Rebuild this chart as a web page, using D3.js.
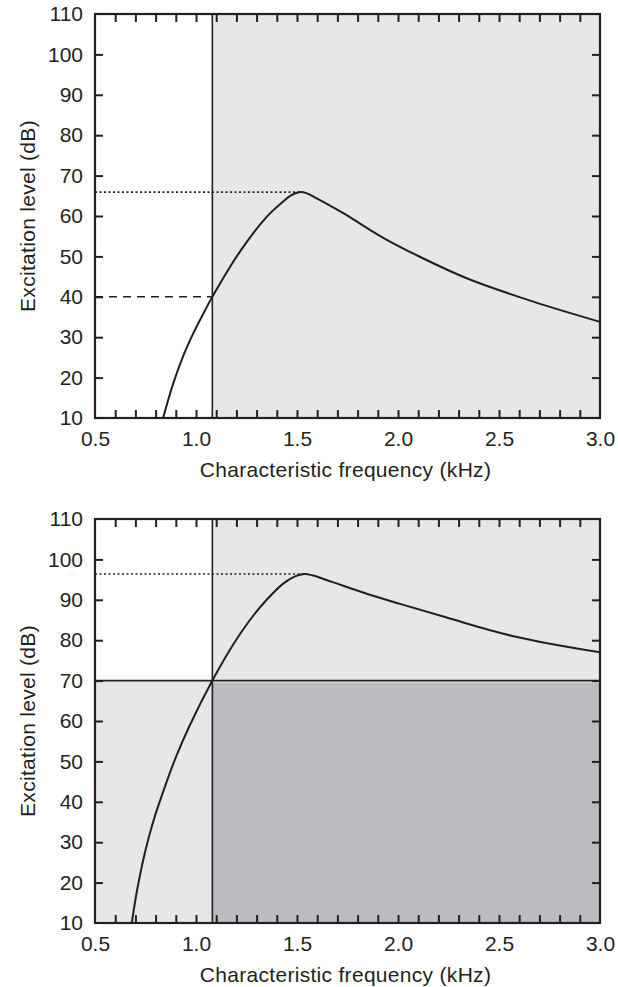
<!DOCTYPE html>
<html>
<head>
<meta charset="utf-8">
<script src="https://cdn.jsdelivr.net/npm/d3@7"></script>
<style>
  body { margin: 0; background: #fff; }
  svg { display: block; font-family: "Liberation Sans", Arial, sans-serif; }
</style>
</head>
<body>
<div id="vis"></div>
<script>
// Eixos
const freqLabels = [0.5, 1.0, 1.5, 2.0, 2.5, 3.0];
const freqMinor = d3.range(6, 30).map(d => d / 10);
const levelLabels = [10, 20, 30, 40, 50, 60, 70, 80, 90, 100, 110];
const levelMinor = [20, 30, 40, 50, 60, 70, 80, 90, 100];

// Painel de cima: padrão de excitação
const freqTop  = [0.837, 0.887, 0.937, 0.987, 1.037, 1.081, 1.215, 1.35, 1.432, 1.47, 1.51, 1.55, 1.6, 1.729, 1.927, 2.092, 2.34, 2.67, 3.0];
const levelTop = [10, 18.5, 25.4, 31, 35.9, 40, 51, 59.8, 63.6, 65.1, 65.9, 65.6, 64.3, 60.7, 54.6, 50.3, 44.6, 38.8, 33.8];

// Painel de baixo
const freqBottom  = [0.682, 0.706, 0.735, 0.765, 0.8, 0.838, 0.9, 0.97, 1.081, 1.185, 1.267, 1.35, 1.432, 1.49, 1.535, 1.58, 1.68, 1.845, 2.01, 2.241, 2.571, 3.0];
const levelBottom = [10, 17.5, 24.8, 31, 37, 42.6, 51, 59, 70, 79, 85, 90, 94, 95.8, 96.4, 96, 94.3, 91.5, 89, 85.6, 81, 77];

// Linhas de referência
const cutFreq = 1.081;
const topPeak = { f: 1.51, level: 65.9 };
const topCut = 40;
const bottomPeak = { f: 1.535, level: 96.4 };
const bottomCut = 70;

const W = 618, H = 987;
const plotLeft = 95, plotWidth = 505, plotHeight = 404;
const ink = "#231f20";
const lightGray = "#e6e7e8";
const darkGray = "#bbbcbf";
const fontSize = "21px";

const svg = d3.select("#vis").append("svg")
    .attr("width", W)
    .attr("height", H);

function drawPanel(top, freqs, levels, peak, opts) {
    const g = svg.append("g").attr("transform", `translate(${plotLeft}, ${top})`);

    const x = d3.scaleLinear().domain([0.5, 3.0]).range([0, plotWidth]);
    const y = d3.scaleLinear().domain([10, 110]).range([plotHeight, 0]);

    // Fundo / regiões sombreadas
    if (opts.mode === "top") {
        g.append("rect")
            .attr("x", x(cutFreq)).attr("y", 0)
            .attr("width", x(3.0) - x(cutFreq)).attr("height", plotHeight)
            .attr("fill", lightGray);
    } else {
        g.append("rect")
            .attr("x", 0).attr("y", 0)
            .attr("width", plotWidth).attr("height", plotHeight)
            .attr("fill", lightGray);
        g.append("rect")
            .attr("x", 0).attr("y", 0)
            .attr("width", x(cutFreq)).attr("height", y(opts.cut))
            .attr("fill", "#fff");
        g.append("rect")
            .attr("x", x(cutFreq)).attr("y", y(opts.cut) + 2)
            .attr("width", x(3.0) - x(cutFreq)).attr("height", plotHeight - y(opts.cut) - 2)
            .attr("fill", darkGray);
    }

    // Linha vertical
    g.append("line")
        .attr("x1", x(cutFreq)).attr("x2", x(cutFreq))
        .attr("y1", 0).attr("y2", plotHeight)
        .attr("stroke", ink).attr("stroke-width", 1.6);

    if (opts.mode === "top") {
        // tracejada até o cruzamento
        g.append("line")
            .attr("x1", 0).attr("x2", x(cutFreq))
            .attr("y1", y(opts.cut)).attr("y2", y(opts.cut))
            .attr("stroke", ink).attr("stroke-width", 1.6)
            .attr("stroke-dasharray", "8,6");
    } else {
        g.append("line")
            .attr("x1", 0).attr("x2", plotWidth)
            .attr("y1", y(opts.cut)).attr("y2", y(opts.cut))
            .attr("stroke", ink).attr("stroke-width", 1.8);
    }

    // pontilhada até o pico
    g.append("line")
        .attr("x1", 0).attr("x2", x(peak.f))
        .attr("y1", y(peak.level)).attr("y2", y(peak.level))
        .attr("stroke", ink).attr("stroke-width", 1.6)
        .attr("stroke-dasharray", "2,2.5");

    // Curva
    const pts = freqs.map((f, i) => [f, levels[i]]);
    const line = d3.line()
        .x(d => x(d[0]))
        .y(d => y(d[1]))
        .curve(d3.curveCatmullRom.alpha(0.5));
    g.append("path")
        .datum(pts)
        .attr("d", line)
        .attr("fill", "none")
        .attr("stroke", ink)
        .attr("stroke-width", 2);

    // Ticks para dentro (4 lados)
    const tickLen = 8;
    g.append("g").attr("class", "ticks")
        .attr("transform", `translate(0, ${plotHeight})`)
        .call(d3.axisBottom(x).tickValues(freqMinor).tickSize(-tickLen).tickFormat(""));
    g.append("g").attr("class", "ticks")
        .call(d3.axisTop(x).tickValues(freqMinor).tickSize(-tickLen).tickFormat(""));
    g.append("g").attr("class", "ticks")
        .call(d3.axisLeft(y).tickValues(levelMinor).tickSize(-tickLen).tickFormat(""));
    g.append("g").attr("class", "ticks")
        .attr("transform", `translate(${plotWidth}, 0)`)
        .call(d3.axisRight(y).tickValues(levelMinor).tickSize(-tickLen).tickFormat(""));

    g.selectAll(".ticks .domain").remove();
    g.selectAll(".ticks line").attr("stroke", ink).attr("stroke-width", 2);

    // Rótulos
    const xLab = g.append("g")
        .attr("transform", `translate(0, ${plotHeight})`)
        .call(d3.axisBottom(x).tickValues(freqLabels).tickSize(0).tickPadding(13)
            .tickFormat(d3.format(".1f")));
    const yLab = g.append("g")
        .call(d3.axisLeft(y).tickValues(levelLabels).tickSize(0).tickPadding(12));
    [xLab, yLab].forEach(a => {
        a.select(".domain").remove();
        a.selectAll("text")
            .attr("fill", ink)
            .style("font-size", fontSize)
            .style("font-family", "'Liberation Sans', Arial, sans-serif");
    });

    // Moldura
    g.append("rect")
        .attr("x", 0).attr("y", 0)
        .attr("width", plotWidth).attr("height", plotHeight)
        .attr("fill", "none")
        .attr("stroke", ink).attr("stroke-width", 2.2);

    // Títulos dos eixos
    g.append("text")
        .attr("x", plotWidth / 2 - 2)
        .attr("y", plotHeight + 59)
        .attr("text-anchor", "middle")
        .attr("fill", ink)
        .style("font-size", fontSize)
        .style("letter-spacing", "0.3px")
        .text("Characteristic frequency (kHz)");

    g.append("text")
        .attr("transform", `translate(${-60}, ${plotHeight / 2}) rotate(-90)`)
        .attr("text-anchor", "middle")
        .attr("fill", ink)
        .style("font-size", fontSize)
        .style("letter-spacing", "0.3px")
        .text("Excitation level (dB)");
}

drawPanel(14, freqTop, levelTop, topPeak, { mode: "top", cut: topCut });
drawPanel(519, freqBottom, levelBottom, bottomPeak, { mode: "bottom", cut: bottomCut });
</script>
</body>
</html>
